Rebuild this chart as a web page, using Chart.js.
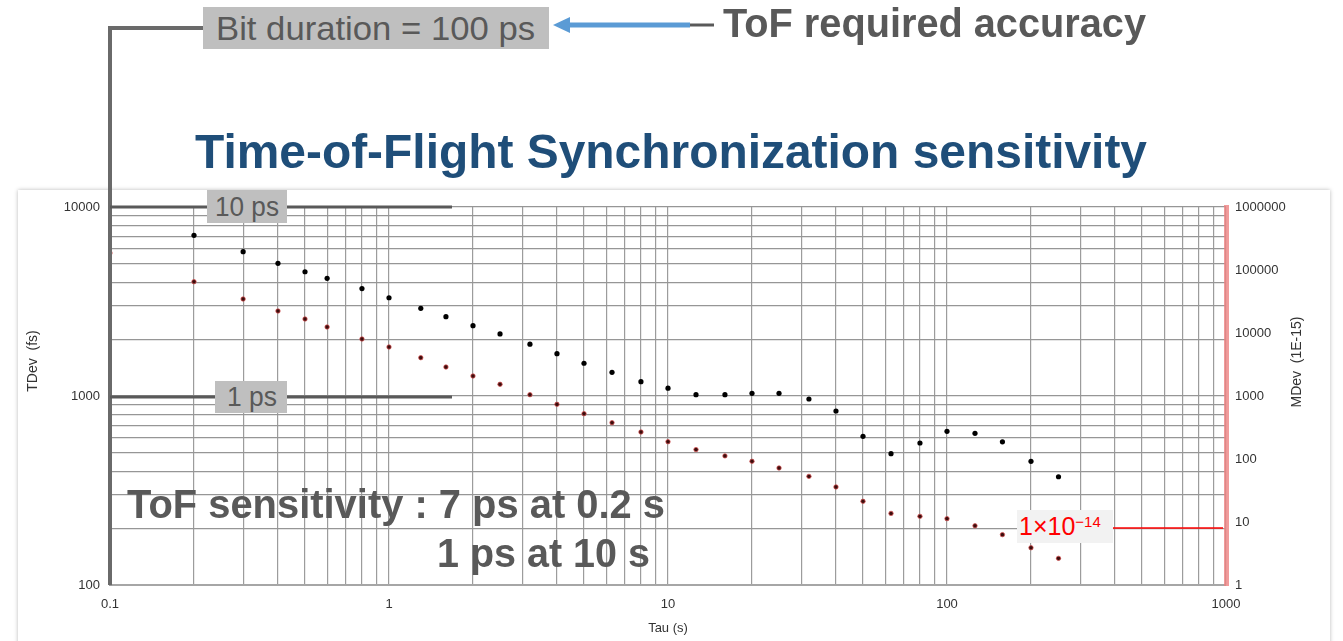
<!DOCTYPE html>
<html>
<head>
<meta charset="utf-8">
<script src="https://cdn.jsdelivr.net/npm/chart.js@4.4.1/dist/chart.umd.min.js"></script>
<style>
  html, body { margin: 0; padding: 0; background: #fff; }
  body { width: 1343px; height: 641px; position: relative; overflow: hidden; font-family: "Liberation Sans", Arial, sans-serif; }
  #panel { position: absolute; left: 18px; top: 190px; width: 1312px; height: 470px; background: #fff; box-shadow: 0 0 4px rgba(0,0,0,0.28); }
  #chart { position: absolute; left: 0; top: 0; }
  .lbl { position: absolute; white-space: nowrap; line-height: 1; transform-origin: 0 0; color: #595959; }
  .b { font-weight: bold; }
  .box { position: absolute; background: #bfbfbf; }
</style>
</head>
<body>
<div id="panel"></div>
<canvas id="chart" width="1343" height="641"></canvas>

<div class="box" style="left:203px;top:7px;width:346px;height:42px"></div>
<div class="lbl" data-w="319" style="left:216px;top:11px;font-size:34px">Bit duration = 100 ps</div>
<div class="lbl b" data-w="423" style="left:723px;top:3px;font-size:40px">ToF required accuracy</div>
<div class="lbl b" data-w="952" style="left:195px;top:128px;font-size:48px;color:#1f4e79">Time-of-Flight Synchronization sensitivity</div>

<div class="box" style="left:207px;top:190px;width:80px;height:33px"></div>
<div class="lbl" data-w="64" style="left:215px;top:194px;font-size:27px">10 ps</div>
<div class="box" style="left:215px;top:381px;width:72px;height:32px"></div>
<div class="lbl" data-w="50" style="left:227px;top:384px;font-size:27px">1 ps</div>

<div class="lbl b" data-w="538" style="left:127px;top:484px;font-size:40px">ToF sensitivity : 7 ps at 0.2 s</div>
<div class="lbl b" data-w="213" style="left:437px;top:533px;font-size:40px">1 ps at 10 s</div>

<div class="box" style="left:1017px;top:510px;width:96px;height:33px;background:#f2f2f2"></div>
<div class="lbl" style="left:1019px;top:514px;font-size:25px;color:#ff0000">1×10<span style="font-size:15px;position:relative;top:-8px">−14</span></div>

<script>
// ================= DATA =================

const tauTdev = [0.2, 0.3, 0.4, 0.5, 0.6, 0.8, 1, 1.3, 1.6, 2, 2.5, 3.2, 4, 5, 6.3, 8, 10, 12.6, 16, 20, 25, 32, 40, 50, 63, 80, 100, 126, 158, 200, 251];
const tdevFs = [7080, 5800, 5035, 4545, 4195, 3700, 3310, 2910, 2630, 2355, 2130, 1880, 1675, 1490, 1335, 1190, 1100, 1016, 1016, 1033, 1033, 964, 833, 612, 495, 564, 650, 635, 572, 451, 374];

const tauMdev = [0.1, 0.2, 0.3, 0.4, 0.5, 0.6, 0.8, 1, 1.3, 1.6, 2, 2.5, 3.2, 4, 5, 6.3, 8, 10, 12.6, 16, 20, 25, 32, 40, 50, 63, 80, 100, 126, 158, 200, 251];
const mdev = [186000, 65200, 34650, 22340, 16680, 12450, 8030, 5995, 4055, 2885, 2077, 1535, 1049, 738, 524, 377, 268, 188, 141, 112, 92, 72, 53, 36, 21.3, 13.7, 12.3, 11.3, 8.7, 6.3, 3.9, 2.65];

const tauDecades = [0.1, 1, 10, 100];
const tdevDecades = [100, 1000];
const mdevDecades = [1, 10, 100, 1000, 10000, 100000, 1000000];
const steps = [1, 2, 3, 4, 5, 6, 7, 8, 9];

const FONT = '"Liberation Sans", Arial, sans-serif';

// ================= TICKS =================

function logGrid(decades, last) {
  const out = [];
  decades.forEach(d => steps.forEach(s => out.push(+(d * s).toPrecision(6))));
  out.push(last);
  return out.map(v => ({ value: v }));
}

function isPow10(v) {
  const l = Math.log10(v);
  return Math.abs(l - Math.round(l)) < 1e-9;
}

const labelPow10 = v => (isPow10(v) ? String(v) : '');

// ================= ANNOTATIONS =================

const overlay = {
  id: 'overlay',
  afterDraw(chart) {
    const { ctx, scales: { x, y, y2 } } = chart;
    const x0 = x.getPixelForValue(0.1);
    ctx.save();

    // bracket from "Bit duration" down the TDev axis
    ctx.strokeStyle = '#6a6a6a';
    ctx.lineWidth = 4;
    ctx.beginPath();
    ctx.moveTo(205, 28);
    ctx.lineTo(x0, 28);
    ctx.lineTo(x0, y.getPixelForValue(100));
    ctx.stroke();

    // 10 ps / 1 ps levels
    ctx.strokeStyle = '#595959';
    ctx.lineWidth = 3;
    [10000, 1000].forEach(v => {
      const py = y.getPixelForValue(v) + (v === 1000 ? 1 : 0);
      ctx.beginPath();
      ctx.moveTo(x0, py);
      ctx.lineTo(452, py);
      ctx.stroke();
    });

    // 1e-14 marker
    const ry = y2.getPixelForValue(8);
    ctx.strokeStyle = '#ff0000';
    ctx.lineWidth = 1.5;
    ctx.beginPath();
    ctx.moveTo(1113, ry);
    ctx.lineTo(x.right - 3, ry);
    ctx.stroke();

    // arrow to "Bit duration"
    ctx.strokeStyle = '#5b9bd5';
    ctx.fillStyle = '#5b9bd5';
    ctx.lineWidth = 5;
    ctx.beginPath();
    ctx.moveTo(690, 25);
    ctx.lineTo(566, 25);
    ctx.stroke();
    ctx.beginPath();
    ctx.moveTo(553, 25);
    ctx.lineTo(570, 17);
    ctx.lineTo(570, 33);
    ctx.closePath();
    ctx.fill();
    ctx.strokeStyle = '#595959';
    ctx.lineWidth = 3;
    ctx.beginPath();
    ctx.moveTo(690, 25);
    ctx.lineTo(714, 25);
    ctx.stroke();

    // axis titles, both reading upwards
    ctx.fillStyle = '#333';
    ctx.font = '14px ' + FONT;
    ctx.textAlign = 'center';
    ctx.textBaseline = 'middle';
    [[33, 361, 'TDev  (fs)'], [1297, 362, 'MDev  (1E-15)']].forEach(([tx, ty, t]) => {
      ctx.save();
      ctx.translate(tx, ty);
      ctx.rotate(-Math.PI / 2);
      ctx.fillText(t, 0, 0);
      ctx.restore();
    });
    ctx.restore();
  }
};

// ================= CHART =================

new Chart(document.getElementById('chart'), {
  type: 'scatter',
  data: {
    datasets: [
      {
        label: 'TDev',
        data: tauTdev.map((t, i) => ({ x: t, y: tdevFs[i] })),
        yAxisID: 'y',
        pointStyle: 'circle',
        pointRadius: 2.6,
        pointBackgroundColor: '#000',
        pointBorderWidth: 0
      },
      {
        label: 'MDev',
        data: tauMdev.map((t, i) => ({ x: t, y: mdev[i] })),
        yAxisID: 'y2',
        pointStyle: 'circle',
        pointRadius: 2.2,
        pointBackgroundColor: '#3c0d0d',
        pointBorderColor: 'rgba(214,80,80,0.75)',
        pointBorderWidth: 1
      }
    ]
  },
  options: {
    responsive: false,
    devicePixelRatio: 1,
    animation: false,
    layout: { padding: { left: 18, right: 13, top: 207, bottom: 0 } },
    plugins: { legend: { display: false }, tooltip: { enabled: false } },
    scales: {
      x: {
        type: 'logarithmic',
        position: 'bottom',
        min: 0.1,
        max: 1000,
        afterBuildTicks: s => { s.ticks = logGrid(tauDecades, 1000); },
        afterFit: s => { s.height = 56; },
        grid: { color: '#9c9c9c', lineWidth: 1.2, drawTicks: false },
        border: { color: '#a6a6a6', width: 2 },
        ticks: {
          autoSkip: false, maxRotation: 0, padding: 12, color: '#333',
          font: { size: 13, family: FONT },
          callback: labelPow10
        },
        title: {
          display: true, text: 'Tau (s)', color: '#333',
          font: { size: 13, family: FONT },
          padding: { top: 0, bottom: 5 }
        }
      },
      y: {
        type: 'logarithmic',
        position: 'left',
        min: 100,
        max: 10000,
        afterBuildTicks: s => { s.ticks = logGrid(tdevDecades, 10000); },
        afterFit: s => { s.width = 92; },
        grid: { color: '#969696', lineWidth: 1.2, drawTicks: false },
        border: { color: '#7f7f7f', width: 3 },
        ticks: {
          autoSkip: false, padding: 10, color: '#333',
          font: { size: 13, family: FONT },
          callback: labelPow10
        }
      },
      y2: {
        type: 'logarithmic',
        position: 'right',
        min: 1,
        max: 1000000,
        afterBuildTicks: s => { s.ticks = mdevDecades.map(v => ({ value: v })); },
        afterFit: s => { s.width = 104; },
        grid: { display: false, drawTicks: false },
        border: { color: 'rgba(238,130,130,0.8)', width: 5 },
        ticks: {
          autoSkip: false, padding: 9, color: '#333',
          font: { size: 13, family: FONT },
          callback: labelPow10
        }
      }
    }
  },
  plugins: [overlay]
});

// squeeze overlay labels to the widths they have on the slide
document.querySelectorAll('.lbl[data-w]').forEach(el => {
  const w = el.getBoundingClientRect().width;
  el.style.transform = `scaleX(${el.dataset.w / w})`;
});
</script>
</body>
</html>
